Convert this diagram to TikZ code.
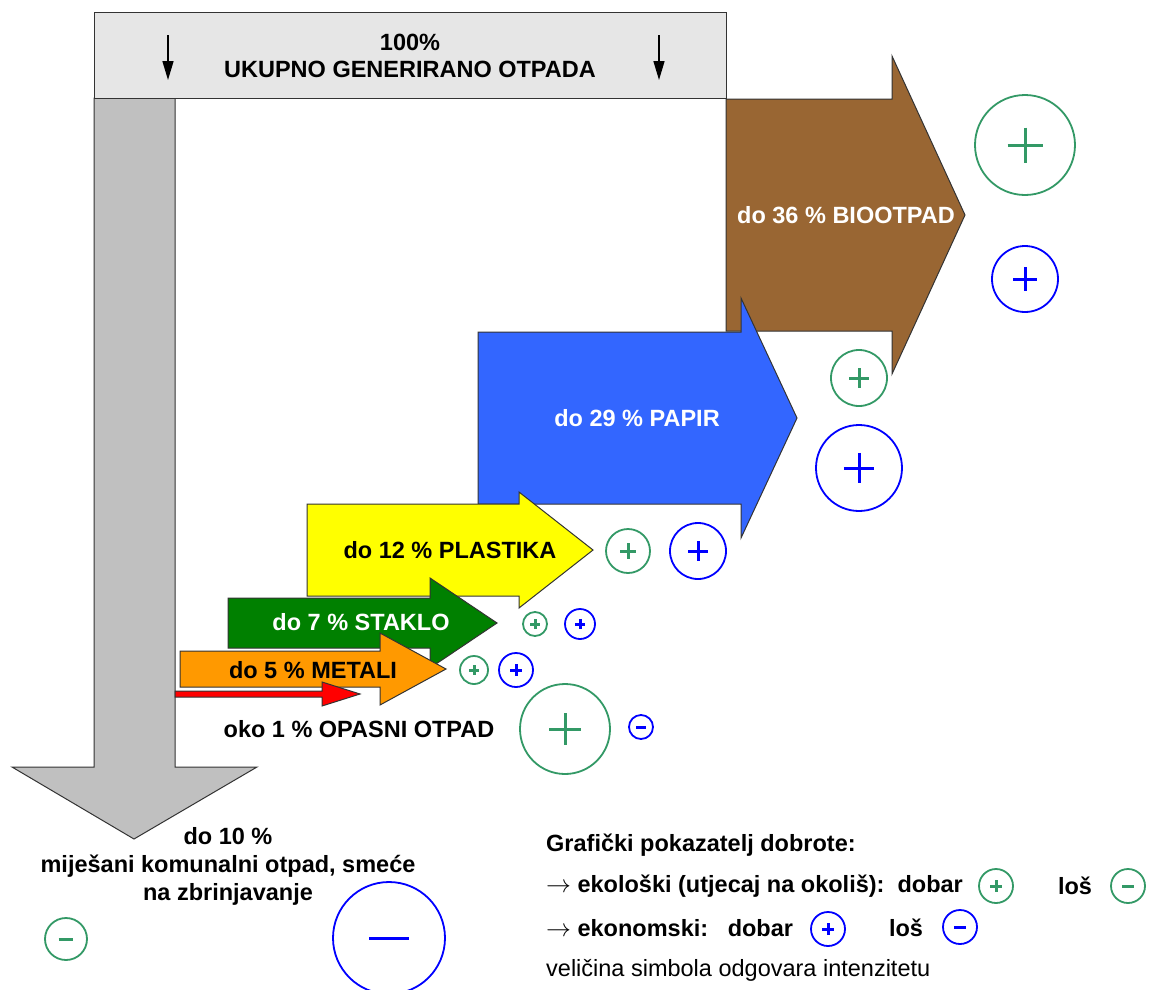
\documentclass[tikz,border=0pt]{standalone}
\usepackage{fontspec}
\setmainfont{Liberation Sans}
\usetikzlibrary{arrows.meta}
\definecolor{symgreen}{RGB}{51,153,102}
\definecolor{symblue}{RGB}{0,0,255}
\definecolor{bargray}{RGB}{230,230,230}
\definecolor{shaftgray}{RGB}{192,192,192}
\definecolor{bio}{RGB}{153,102,51}
\definecolor{paper}{RGB}{51,102,255}
\definecolor{glass}{RGB}{0,128,0}
\definecolor{metal}{RGB}{255,153,0}
\definecolor{plastic}{RGB}{255,255,0}
\definecolor{hazard}{RGB}{255,0,0}
\newcommand\symcirc[6]{%
  \pgfmathsetmacro\symd{2*#4}%
  \pgfmathsetmacro\symh{max(0.35*#4,5)}%
  \node[symbol, draw=#5, minimum size=\symd pt] (#1) at (#2,#3) {};
  \draw[signline, #5] (#1.center) ++(-\symh,0) -- ++(2*\symh,0);
  \ifnum#6=1 \draw[signline,#5] (#1.center) ++(0,-\symh) -- ++(0,2*\symh);\fi
}
\tikzset{
  symbol/.style={circle, inner sep=0pt, line width=1.8pt},
  signline/.style={line width=3pt},
  outl/.style={draw=black!80, line width=1pt},
  lbl/.style={font=\fontsize{23.5}{28}\selectfont\bfseries, inner sep=0pt, align=center},
  lgd/.style={font=\fontsize{23.5}{28}\selectfont\bfseries, inner sep=0pt, anchor=west},
  downarr/.style={line width=1.5pt, -{Triangle[length=19pt,width=11pt]}}
}
\begin{document}
\begin{tikzpicture}[x=1pt,y=-1pt]
\useasboundingbox (0,0) rectangle (1149,989);
\fill[white] (0,0) rectangle (1149,989);
% grey down arrow
\draw[outl, fill=shaftgray] (94,98) -- (175,98) -- (175,767) -- (257,767) -- (134,839) -- (12,767) -- (94,767) -- cycle;
% top bar
\draw[outl, fill=bargray] (94,12) rectangle (726,98);
\coordinate (a1s) at (168,35); \coordinate (a1e) at (168,80);
\coordinate (a2s) at (659,35); \coordinate (a2e) at (659,80);
\draw[downarr] (a1s) -- (a1e);
\draw[downarr] (a2s) -- (a2e);
\node[lbl] (tot1) at (410,42) {100\%};
\node[lbl] (tot2) at (410,69) {UKUPNO GENERIRANO OTPADA};
% brown
\draw[outl, fill=bio] (726,99) -- (892,99) -- (892,56) -- (965,215) -- (892,374) -- (892,331) -- (726,331) -- cycle;
\node[lbl, text=white] (biot) at (846,215) {do 36 \% BIOOTPAD};
% blue
\draw[outl, fill=paper] (478,332) -- (741,332) -- (741,298) -- (797,418) -- (741,538) -- (741,504) -- (478,504) -- cycle;
\node[lbl, text=white] (papt) at (637,418) {do 29 \% PAPIR};
% yellow
\draw[outl, fill=plastic] (307,504) -- (519,504) -- (519,492) -- (593,550) -- (519,608) -- (519,596) -- (307,596) -- cycle;
\node[lbl] (plat) at (450,550) {do 12 \% PLASTIKA};
% green
\draw[outl, fill=glass] (228,598) -- (430,598) -- (430,578) -- (497,623) -- (430,668) -- (430,648) -- (228,648) -- cycle;
\node[lbl, text=white] (stat) at (361,622) {do 7 \% STAKLO};
% orange
\draw[outl, fill=metal] (180,651) -- (380,651) -- (380,633) -- (446,669) -- (380,705) -- (380,687) -- (180,687) -- cycle;
\node[lbl] (mett) at (313,670) {do 5 \% METALI};
% red
\draw[outl, fill=hazard] (175,691) -- (322,691) -- (322,682) -- (360,694) -- (322,706) -- (322,697) -- (175,697) -- cycle;
\node[lbl] (opat) at (359,729) {oko 1 \% OPASNI OTPAD};
% bottom text
\node[lbl] (komt) at (228,866) {do 10 \%\\miješani komunalni otpad, smeće\\na zbrinjavanje};
% symbols
\symcirc{bioG}{1025}{145}{50}{symgreen}{1}
\symcirc{bioB}{1025}{279}{33}{symblue}{1}
\symcirc{papG}{859}{378}{28}{symgreen}{1}
\symcirc{papB}{859}{468}{43}{symblue}{1}
\symcirc{plaG}{628}{551}{22}{symgreen}{1}
\symcirc{plaB}{698}{551}{28}{symblue}{1}
\symcirc{staG}{535}{624}{12}{symgreen}{1}
\symcirc{staB}{580}{624}{15}{symblue}{1}
\symcirc{metG}{474}{670}{14}{symgreen}{1}
\symcirc{metB}{516}{670}{17}{symblue}{1}
\symcirc{opaG}{565}{729}{45}{symgreen}{1}
\symcirc{opaB}{641}{727}{12}{symblue}{0}
\symcirc{komG}{66}{939}{21}{symgreen}{0}
\symcirc{komB}{389}{938}{56}{symblue}{0}
% legend
\node[lgd] (lg1) at (546,845) {Grafički pokazatelj dobrote:};
\node[lgd] (lg2) at (546,886) {$\rightarrow$ ekološki (utjecaj na okoliš):\ \ dobar};
\node[lbl] (lg2l) at (1075,886) {loš};
\node[lgd] (lg3) at (546,928) {$\rightarrow$ ekonomski:\ \ \ dobar};
\node[lbl] (lg3l) at (906,928) {loš};
\node[lgd, font=\fontsize{23.5}{28}\selectfont] (lg4) at (546,970) {veličina simbola odgovara intenzitetu};
\symcirc{lgGp}{996}{886}{17}{symgreen}{1}
\symcirc{lgGm}{1128}{886}{17}{symgreen}{0}
\symcirc{lgBp}{828}{929}{17}{symblue}{1}
\symcirc{lgBm}{960}{927}{17}{symblue}{0}
\end{tikzpicture}
\end{document}
